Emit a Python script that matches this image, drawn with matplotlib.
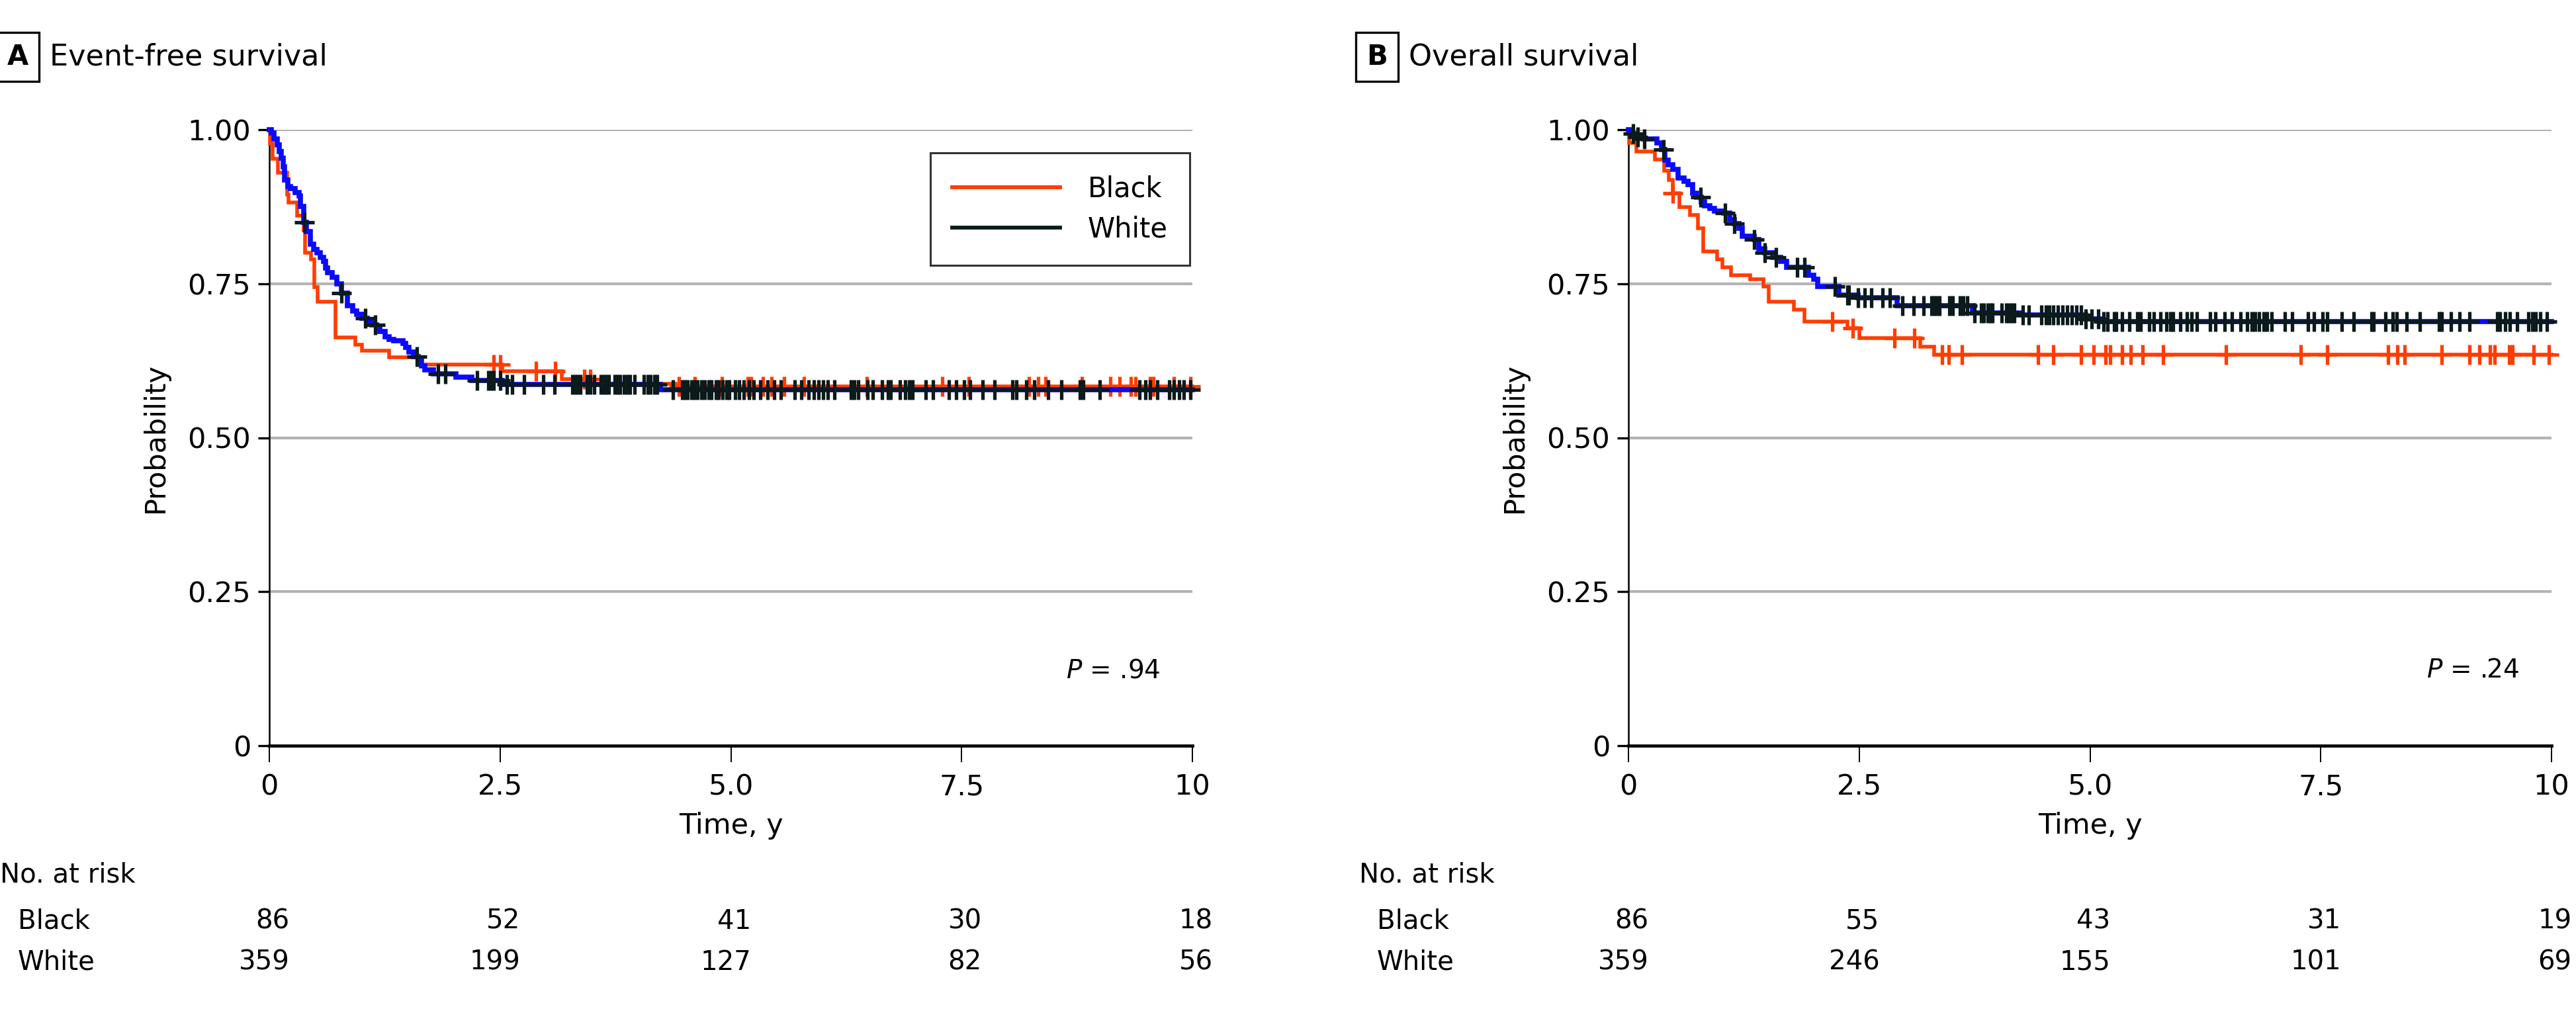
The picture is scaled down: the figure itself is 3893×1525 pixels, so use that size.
import numpy as np
import matplotlib
matplotlib.use("Agg")
import matplotlib.pyplot as plt
from matplotlib.lines import Line2D
from matplotlib.transforms import blended_transform_factory

plt.rcParams["font.family"] = ["DejaVu Sans"]

# ---- data ----
groups = ["Black", "White"]
x_ticks = [0, 2.5, 5.0, 7.5, 10]
x_tick_labels = ["0", "2.5", "5.0", "7.5", "10"]
y_ticks = [0, 0.25, 0.50, 0.75, 1.00]
y_tick_labels = ["0", "0.25", "0.50", "0.75", "1.00"]

# Panel A: event-free survival
efs_black_t = [0, 0.01, 0.036, 0.095, 0.19, 0.21, 0.30, 0.37, 0.39, 0.45, 0.49, 0.525,
               0.72, 0.93, 1.00, 1.30, 1.62, 2.52, 3.17, 3.50, 4.40]
efs_black_s = [1.0, 0.977, 0.953, 0.930, 0.895, 0.882, 0.860, 0.837, 0.800, 0.790, 0.744, 0.721,
               0.663, 0.651, 0.641, 0.630, 0.619, 0.608, 0.595, 0.588, 0.583]
efs_white_t = [0, 0.02, 0.05, 0.084, 0.11, 0.131, 0.15, 0.167, 0.20, 0.227, 0.28, 0.322, 0.34,
               0.37, 0.40, 0.442, 0.48, 0.513, 0.55, 0.585, 0.61, 0.633, 0.68, 0.728, 0.78,
               0.848, 0.90, 0.943, 1.0, 1.06, 1.11, 1.158, 1.2, 1.253, 1.30, 1.349, 1.445,
               1.48, 1.516, 1.56, 1.612, 1.65, 1.683, 1.779, 2.02, 2.19, 2.52, 4.24]
efs_white_s = [1.0, 0.995, 0.985, 0.975, 0.965, 0.954, 0.940, 0.918, 0.908, 0.904, 0.898, 0.893,
               0.875, 0.850, 0.835, 0.814, 0.806, 0.800, 0.793, 0.786, 0.776, 0.768, 0.760, 0.750,
               0.735, 0.714, 0.706, 0.700, 0.694, 0.687, 0.683, 0.678, 0.672, 0.664, 0.660, 0.657,
               0.653, 0.647, 0.639, 0.632, 0.625, 0.617, 0.610, 0.604, 0.598, 0.593, 0.586, 0.578]
efs_black_cens = [2.43, 2.50, 2.89, 3.10, 3.41, 3.48, 4.44, 4.61, 4.90, 5.18, 5.22, 5.35, 5.44,
                  5.58, 5.79, 6.47, 7.29, 7.58, 8.23, 8.33, 8.41, 8.80, 9.11, 9.21, 9.33, 9.38,
                  9.54, 9.58, 9.80, 9.98]
efs_white_cens = [0.38, 0.78, 1.04, 1.15, 1.60, 1.83, 1.91, 2.25, 2.37, 2.40, 2.43, 2.50, 2.57,
                  2.63, 2.76, 2.97, 3.09, 3.28, 3.31, 3.34, 3.37, 3.44, 3.48, 3.52, 3.59, 3.62,
                  3.65, 3.68, 3.74, 3.77, 3.80, 3.84, 3.88, 3.91, 3.96, 4.06, 4.10, 4.13, 4.17,
                  4.20, 4.37, 4.47, 4.50, 4.53, 4.57, 4.60, 4.64, 4.68, 4.72, 4.76, 4.79, 4.84,
                  4.87, 4.91, 4.95, 4.98, 5.05, 5.09, 5.14, 5.20, 5.25, 5.32, 5.40, 5.47, 5.54,
                  5.69, 5.76, 5.84, 5.90, 5.95, 6.00, 6.05, 6.12, 6.30, 6.34, 6.38, 6.48, 6.54,
                  6.64, 6.70, 6.73, 6.83, 6.89, 6.93, 6.97, 7.11, 7.19, 7.36, 7.44, 7.53, 7.59,
                  7.73, 7.86, 8.05, 8.09, 8.20, 8.29, 8.44, 8.58, 8.78, 8.82, 9.00, 9.43, 9.49,
                  9.54, 9.62, 9.75, 9.80, 9.86, 9.91, 9.98]
efs_risk_black = [86, 52, 41, 30, 18]
efs_risk_white = [359, 199, 127, 82, 56]

# Panel B: overall survival
os_black_t = [0, 0.01, 0.084, 0.29, 0.39, 0.44, 0.48, 0.55, 0.67, 0.75, 0.81, 0.96, 1.02, 1.11,
              1.32, 1.46, 1.52, 1.79, 1.91, 2.37, 2.50, 3.16, 3.31]
os_black_s = [1.0, 0.979, 0.965, 0.952, 0.933, 0.918, 0.897, 0.874, 0.861, 0.840, 0.802, 0.789,
              0.777, 0.764, 0.757, 0.745, 0.721, 0.708, 0.688, 0.678, 0.662, 0.648, 0.635]
os_white_t = [0, 0.036, 0.07, 0.167, 0.31, 0.36, 0.395, 0.43, 0.478, 0.538, 0.60, 0.646, 0.694,
              0.74, 0.789, 0.825, 0.88, 0.933, 1.03, 1.10, 1.15, 1.196, 1.23, 1.36, 1.41, 1.48,
              1.56, 1.65, 1.71, 1.95, 2.01, 2.05, 2.28, 2.49, 2.91, 3.73, 4.23, 4.95, 5.13]
os_white_s = [1.0, 0.994, 0.988, 0.985, 0.978, 0.968, 0.951, 0.943, 0.936, 0.922, 0.916, 0.911,
              0.897, 0.890, 0.883, 0.877, 0.872, 0.868, 0.865, 0.854, 0.847, 0.840, 0.827, 0.822,
              0.807, 0.800, 0.793, 0.786, 0.777, 0.764, 0.757, 0.745, 0.732, 0.727, 0.714, 0.703,
              0.699, 0.693, 0.689]
os_black_cens = [0.48, 2.21, 2.43, 2.88, 3.10, 3.40, 3.47, 3.61, 4.44, 4.60, 4.90, 5.04, 5.17,
                 5.22, 5.35, 5.44, 5.57, 5.79, 6.47, 7.28, 7.57, 8.23, 8.33, 8.41, 8.81, 9.11,
                 9.22, 9.33, 9.38, 9.54, 9.58, 9.81, 9.97]
os_white_cens = [0.05, 0.10, 0.17, 0.38, 0.78, 1.05, 1.15, 1.36, 1.48, 1.60, 1.83, 1.91, 2.24,
                 2.37, 2.39, 2.49, 2.56, 2.63, 2.75, 2.83, 2.97, 3.09, 3.20, 3.28, 3.31, 3.34,
                 3.37, 3.48, 3.51, 3.59, 3.63, 3.67, 3.75, 3.82, 3.85, 3.89, 3.92, 3.94, 4.04,
                 4.09, 4.12, 4.15, 4.18, 4.27, 4.34, 4.47, 4.52, 4.56, 4.60, 4.65, 4.70, 4.75,
                 4.80, 4.85, 4.90, 4.95, 5.02, 5.09, 5.15, 5.19, 5.26, 5.28, 5.35, 5.43, 5.51,
                 5.55, 5.64, 5.69, 5.76, 5.83, 5.87, 5.90, 5.98, 6.05, 6.10, 6.16, 6.30, 6.36,
                 6.46, 6.54, 6.63, 6.70, 6.75, 6.79, 6.83, 6.88, 6.92, 6.97, 7.11, 7.19, 7.36,
                 7.43, 7.52, 7.57, 7.73, 7.86, 8.05, 8.07, 8.20, 8.28, 8.32, 8.43, 8.57, 8.78,
                 8.81, 8.91, 9.00, 9.11, 9.41, 9.44, 9.50, 9.55, 9.63, 9.75, 9.79, 9.83, 9.88,
                 9.95]
os_risk_black = [86, 55, 43, 31, 19]
os_risk_white = [359, 246, 155, 101, 69]

ORANGE = "#ff3d00"
BLUE = "#0a0aff"
DARK = "#0b1a1a"
GRID = "#b4b4b4"

W, H = 3893, 1525
fig = plt.figure(figsize=(W / 100, H / 100), dpi=100)


def surv_at(times, surv, t):
    idx = np.searchsorted(times, t, side="right") - 1
    return np.asarray(surv)[idx]


def km(ax, times, surv, cens, line_color, mark_color, lw, z):
    t = list(times) + [10]
    s = list(surv) + [surv[-1]]
    ax.step(t, s, where="post", color=line_color, lw=lw, zorder=z,
            clip_on=False, solid_joinstyle="miter")
    cens = np.asarray(cens)
    ax.plot(cens, surv_at(times, surv, cens), ls="none", marker="+",
            ms=22, mew=3.8, color=mark_color, zorder=z + 0.5, clip_on=False)


def panel(left_px, letter, title, black, white, risk_black, risk_white, p_text, legend):
    ax = fig.add_axes([left_px / W, 1 - 1127 / H, 1395 / W, 931 / H])
    ax.set_xlim(0, 10)
    ax.set_ylim(0, 1)
    for y in y_ticks[1:]:
        ax.axhline(y, color=GRID, lw=3, zorder=0)
    km(ax, *black, ORANGE, ORANGE, 4.0, 3)
    km(ax, *white, BLUE, DARK, 5.5, 4)

    for side in ["top", "right"]:
        ax.spines[side].set_visible(False)
    ax.spines["left"].set_linewidth(1.8)
    ax.spines["bottom"].set_linewidth(3.4)
    ax.set_xticks(x_ticks)
    ax.set_xticklabels(x_tick_labels)
    ax.set_yticks(y_ticks)
    ax.set_yticklabels(y_tick_labels)
    ax.tick_params(axis="y", length=12, width=2.4, pad=8, labelsize=31)
    ax.tick_params(axis="x", length=18, width=1.4, pad=12, labelsize=31)
    ax.set_ylabel("Probability", fontsize=31, labelpad=20)
    ax.set_xlabel("Time, y", fontsize=31, labelpad=12)

    ax.text(0.965, 0.122, p_text, transform=ax.transAxes, ha="right", va="center",
            fontsize=28)

    if legend:
        handles = [Line2D([], [], color=ORANGE, lw=4.2),
                   Line2D([], [], color=DARK, lw=4.2)]
        leg = ax.legend(handles, groups, loc="upper right", bbox_to_anchor=(0.997, 0.962),
                        fontsize=30, frameon=True, fancybox=False, handlelength=3.9,
                        borderpad=0.8, labelspacing=0.45, handletextpad=1.0,
                        borderaxespad=0)
        leg.get_frame().set_edgecolor("black")
        leg.get_frame().set_linewidth(2.2)

    # panel heading
    x0 = left_px - 407
    fig.text((x0 + 27) / W, 1 - 86 / H, letter, ha="center", va="center", fontsize=30,
             fontweight="bold",
             bbox=dict(boxstyle="square,pad=0.38", fc="white", ec="black", lw=2.4))
    fig.text((x0 + 75) / W, 1 - 86 / H, title, ha="left", va="center", fontsize=32)

    # number at risk table
    tr = blended_transform_factory(ax.transData, fig.transFigure)
    fig.text((x0 + 0) / W, 1 - 1323 / H, "No. at risk", ha="left", va="center", fontsize=29)
    fig.text((x0 + 27) / W, 1 - 1393 / H, groups[0], ha="left", va="center", fontsize=29)
    fig.text((x0 + 27) / W, 1 - 1455 / H, groups[1], ha="left", va="center", fontsize=29)
    for xt, nb, nw in zip(x_ticks, risk_black, risk_white):
        ax.text(xt + 0.22, 1 - 1393 / H, str(nb), transform=tr, ha="right", va="center",
                fontsize=29)
        ax.text(xt + 0.22, 1 - 1455 / H, str(nw), transform=tr, ha="right", va="center",
                fontsize=29)
    return ax


panel(407, "A", "Event-free survival",
      (efs_black_t, efs_black_s, efs_black_cens),
      (efs_white_t, efs_white_s, efs_white_cens),
      efs_risk_black, efs_risk_white, r"$P$ = .94", True)
panel(2461, "B", "Overall survival",
      (os_black_t, os_black_s, os_black_cens),
      (os_white_t, os_white_s, os_white_cens),
      os_risk_black, os_risk_white, r"$P$ = .24", False)

fig.savefig("out.png", dpi=100, facecolor="white")
